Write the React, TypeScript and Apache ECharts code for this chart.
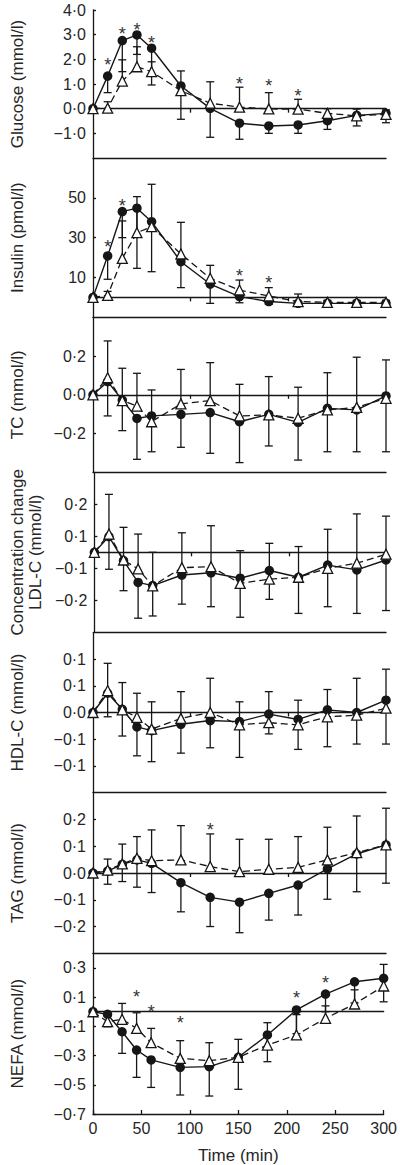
import React, { useEffect, useRef } from 'react';
import * as echarts from 'echarts';

const TIME = [0, 15, 30, 45, 60, 90, 120, 150, 180, 210, 240, 270, 300];

// Glucose (mmol/l)
const GLU_CIRCLE = [0, 1.32, 2.76, 2.99, 2.45, 0.92, 0.01, -0.59, -0.7, -0.66, -0.49, -0.27, -0.19];
const GLU_TRI = [0, 0.02, 1.12, 1.7, 1.5, 0.73, 0.22, 0.06, -0.01, -0.02, -0.19, -0.29, -0.23];
const GLU_CIRCLE_LOW = [0, 0.65, 1.5, 2.2, 0.96, -0.43, -1.16, -1.24, -1.0, -1.0, -0.84, -0.7, -0.57];
const GLU_TRI_HIGH = [0, 0.28, 1.98, 2.51, 1.9, 1.53, 1.09, 0.87, 0.65, 0.38, 0.0, -0.02, -0.05];
const GLU_STAR_T = [15, 30, 45, 60, 150, 180, 210];
const GLU_STAR_Y = [1.97, 3.22, 3.39, 2.85, 1.2, 1.12, 0.72];
const GLU_TICKS = [4, 3, 2, 1, 0, -1];
const GLU_TICK_LABELS = ['4·0', '3·0', '2·0', '1·0', '0·0', '−1·0'];

// Insulin (pmol/l)
const INS_CIRCLE = [0, 20.8, 43.1, 44.8, 38.0, 17.9, 6.7, 0.4, -2.1, -3.0, -3.0, -3.0, -3.0];
const INS_TRI = [0, 1.0, 19.6, 32.5, 35.5, 21.8, 9.6, 3.7, 0.7, -2.1, -2.5, -2.5, -2.5];
const INS_CIRCLE_LOW = [0, 9.1, 30, 14.6, 12.9, 4.9, -3.0, -2.7, -3.5, -4.0, -4.0, -4.0, -4.0];
const INS_TRI_HIGH = [0, 3.0, 38.4, 50.6, 56.8, 37.7, 16.1, 8.7, 4.9, 1.7, -1.5, -1.5, -1.5];
const INS_STAR_T = [15, 30, 150, 180];
const INS_STAR_Y = [28, 48.6, 13.3, 9.6];
const INS_TICKS = [50, 30, 10];
const INS_TICK_LABELS = ['50', '30', '10'];

// TC (mmol/l)
const TC_CIRCLE = [0, 0.068, -0.027, -0.122, -0.109, -0.101, -0.092, -0.139, -0.101, -0.142, -0.07, -0.078, -0.006];
const TC_TRI = [0, 0.088, -0.03, -0.058, -0.139, -0.047, -0.03, -0.109, -0.104, -0.121, -0.078, -0.065, -0.018];
const TC_CIRCLE_LOW = [0, -0.109, -0.185, -0.333, -0.294, -0.271, -0.302, -0.35, -0.264, -0.337, -0.294, -0.294, -0.294];
const TC_TRI_HIGH = [0, 0.278, 0.137, 0.111, 0.025, 0.131, 0.166, 0.054, 0.094, 0.039, 0.114, 0.194, 0.18];
const TC_TICKS = [0.2, 0, -0.2];
const TC_TICK_LABELS = ['0·2', '0·0', '−0·2'];

// LDL-C (mmol/l)
const LDL_CIRCLE = [0, 0.049, -0.026, -0.094, -0.104, -0.071, -0.064, -0.081, -0.057, -0.078, -0.04, -0.055, -0.024];
const LDL_TRI = [0, 0.057, -0.024, -0.052, -0.105, -0.048, -0.045, -0.097, -0.084, -0.078, -0.05, -0.034, -0.006];
const LDL_CIRCLE_LOW = [0, -0.053, -0.12, -0.206, -0.199, -0.162, -0.17, -0.203, -0.147, -0.191, -0.17, -0.191, -0.182];
const LDL_TRI_HIGH = [0, 0.181, 0.078, 0.057, 0.0, 0.061, 0.083, 0.005, 0.028, 0.018, 0.072, 0.12, 0.113];
const LDL_TICKS = [0.15, 0.05, -0.05, -0.15];
const LDL_TICK_LABELS = ['0·2', '0·1', '−0·1', '−0·2'];

// HDL-C (mmol/l)
const HDL_CIRCLE = [0, 0.036, 0.006, -0.027, -0.034, -0.022, -0.015, -0.017, -0.003, -0.013, 0.005, 0.0, 0.023];
const HDL_TRI = [0, 0.041, 0.005, -0.009, -0.031, -0.011, 0.0, -0.023, -0.019, -0.023, -0.008, -0.005, 0.008];
const HDL_CIRCLE_LOW = [0, -0.008, -0.044, -0.081, -0.092, -0.076, -0.066, -0.084, -0.04, -0.069, -0.064, -0.059, -0.059];
const HDL_TRI_HIGH = [0, 0.092, 0.056, 0.036, 0.02, 0.039, 0.064, 0.02, 0.039, 0.023, 0.043, 0.064, 0.081];
const HDL_TICKS = [0.1, 0.05, 0, -0.05, -0.1];
const HDL_TICK_LABELS = ['0·1', '0·1', '0·0', '−0·1', '−0·1'];

// TAG (mmol/l)
const TAG_CIRCLE = [0, 0.007, 0.032, 0.049, 0.036, -0.036, -0.091, -0.109, -0.076, -0.045, 0.015, 0.071, 0.105];
const TAG_TRI = [0, 0.011, 0.034, 0.055, 0.046, 0.049, 0.024, 0.005, 0.014, 0.021, 0.049, 0.076, 0.105];
const TAG_CIRCLE_LOW = [0, -0.042, -0.032, -0.053, -0.073, -0.145, -0.2, -0.223, -0.176, -0.157, -0.098, -0.07, -0.038];
const TAG_TRI_HIGH = [0, 0.052, 0.108, 0.136, 0.161, 0.177, 0.146, 0.126, 0.126, 0.136, 0.171, 0.213, 0.242];
const TAG_STAR_T = [120];
const TAG_STAR_Y = [0.18];
const TAG_TICKS = [0.2, 0.1, 0, -0.1, -0.2];
const TAG_TICK_LABELS = ['0·2', '0·1', '0·0', '−0·1', '−0·2'];

// NEFA (mmol/l)
const NEFA_CIRCLE = [0, -0.018, -0.137, -0.262, -0.33, -0.381, -0.376, -0.312, -0.159, 0.012, 0.121, 0.205, 0.229];
const NEFA_TRI = [0, -0.068, -0.052, -0.114, -0.212, -0.319, -0.335, -0.312, -0.228, -0.159, -0.045, 0.053, 0.176];
const NEFA_CIRCLE_LOW = [0, -0.103, -0.285, -0.449, -0.518, -0.57, -0.577, -0.531, -0.342, -0.15, 0.0, 0.06, 0.068];
const NEFA_TRI_HIGH = [0, -0.03, 0.057, -0.007, -0.114, -0.198, -0.212, -0.189, -0.075, -0.02, 0.04, 0.15, 0.324];
const NEFA_STAR_T = [45, 60, 90, 210, 240];
const NEFA_STAR_Y = [0.137, 0.034, -0.045, 0.126, 0.229];
const NEFA_TICKS = [0.3, 0.1, -0.1, -0.3, -0.5, -0.7];
const NEFA_TICK_LABELS = ['0·3', '0·1', '−0·1', '−0·3', '−0·5', '−0·7'];

const X_TICKS = [0, 50, 100, 150, 200, 250, 300];

const INK = '#161616';
const TEXT = '#262626';
const FONT = '"Liberation Sans", Arial, Helvetica, sans-serif';

const PANELS = [
  { name: 'Glucose (mmol/l)', min: -2, max: 4, ticks: GLU_TICKS, labels: GLU_TICK_LABELS, c: GLU_CIRCLE, t: GLU_TRI, cl: GLU_CIRCLE_LOW, th: GLU_TRI_HIGH, st: GLU_STAR_T, sy: GLU_STAR_Y },
  { name: 'Insulin (pmol/l)', min: -10, max: 70, ticks: INS_TICKS, labels: INS_TICK_LABELS, c: INS_CIRCLE, t: INS_TRI, cl: INS_CIRCLE_LOW, th: INS_TRI_HIGH, st: INS_STAR_T, sy: INS_STAR_Y },
  { name: 'TC (mmol/l)', min: -0.4, max: 0.4, ticks: TC_TICKS, labels: TC_TICK_LABELS, c: TC_CIRCLE, t: TC_TRI, cl: TC_CIRCLE_LOW, th: TC_TRI_HIGH, st: [], sy: [] },
  { name: 'Concentration change\nLDL-C (mmol/l)', min: -0.25, max: 0.25, ticks: LDL_TICKS, labels: LDL_TICK_LABELS, c: LDL_CIRCLE, t: LDL_TRI, cl: LDL_CIRCLE_LOW, th: LDL_TRI_HIGH, st: [], sy: [] },
  { name: 'HDL-C (mmol/l)', min: -0.15, max: 0.15, ticks: HDL_TICKS, labels: HDL_TICK_LABELS, c: HDL_CIRCLE, t: HDL_TRI, cl: HDL_CIRCLE_LOW, th: HDL_TRI_HIGH, st: [], sy: [] },
  { name: 'TAG (mmol/l)', min: -0.3, max: 0.3, ticks: TAG_TICKS, labels: TAG_TICK_LABELS, c: TAG_CIRCLE, t: TAG_TRI, cl: TAG_CIRCLE_LOW, th: TAG_TRI_HIGH, st: TAG_STAR_T, sy: TAG_STAR_Y },
  { name: 'NEFA (mmol/l)', min: -0.7, max: 0.4, ticks: NEFA_TICKS, labels: NEFA_TICK_LABELS, c: NEFA_CIRCLE, t: NEFA_TRI, cl: NEFA_CIRCLE_LOW, th: NEFA_TRI_HIGH, st: NEFA_STAR_T, sy: NEFA_STAR_Y },
];

const TOPS = [10, 158, 317.3, 472.3, 632.3, 792.7, 953.3];
const BOTTOMS = [158, 317.3, 472.3, 632.3, 792.7, 953.3, 1114];

function buildOption() {
  const grid: any[] = [];
  const xAxis: any[] = [];
  const yAxis: any[] = [];
  const series: any[] = [];
  const axisLineStyle = { color: INK, width: 1.3 };

  PANELS.forEach((p, i) => {
    const last = i === PANELS.length - 1;
    grid.push({ left: 88, right: 14, top: TOPS[i], height: BOTTOMS[i] - TOPS[i] });
    xAxis.push({
      gridIndex: i, type: 'value', min: 0, max: 300,
      axisLine: { show: true, onZero: true, lineStyle: axisLineStyle },
      axisTick: { show: !last, customValues: [100, 200], length: 4, inside: false, lineStyle: axisLineStyle },
      axisLabel: { show: false }, splitLine: { show: false },
    });
    xAxis.push({
      gridIndex: i, type: 'value', min: 0, max: 300, interval: 50, position: 'bottom',
      axisLine: { show: true, onZero: false, lineStyle: axisLineStyle },
      axisTick: { show: last, inside: true, length: 4, customValues: X_TICKS, lineStyle: axisLineStyle },
      axisLabel: { show: last, customValues: X_TICKS, fontSize: 16, color: TEXT, fontFamily: FONT, margin: 6 },
      splitLine: { show: false },
      name: last ? 'Time (min)' : '', nameLocation: 'middle', nameGap: 33,
      nameTextStyle: { fontSize: 17, color: TEXT, fontFamily: FONT },
    });
    const ticks = p.ticks;
    const labels = p.labels;
    yAxis.push({
      gridIndex: i, type: 'value', min: p.min, max: p.max,
      axisLine: { show: true, onZero: false, lineStyle: axisLineStyle },
      axisTick: { show: true, inside: true, length: 3, customValues: ticks, lineStyle: axisLineStyle },
      axisLabel: {
        customValues: ticks, fontSize: 16, color: TEXT, fontFamily: FONT, margin: 7,
        formatter: (v: number) => {
          const k = ticks.findIndex((t) => Math.abs(t - v) < 1e-9);
          return k >= 0 ? labels[k] : '';
        },
      },
      splitLine: { show: false },
      name: p.name, nameLocation: 'middle', nameGap: p.name.includes('\n') ? 49 : 67,
      nameTextStyle: { fontSize: 17, color: TEXT, fontFamily: FONT, lineHeight: 18 },
    });

    const xi = 2 * i + 1;
    const errSeries = (means: number[], ends: number[]) => ({
      type: 'custom', xAxisIndex: xi, yAxisIndex: i, z: 2, silent: true,
      encode: { x: 0, y: [1, 2] },
      data: TIME.map((t, k) => [t, means[k], ends[k]]),
      renderItem: (_params: any, api: any) => {
        const x = api.value(0);
        const a = api.coord([x, api.value(1)]);
        const b = api.coord([x, api.value(2)]);
        if (Math.abs(a[1] - b[1]) < 1) return null;
        return {
          type: 'group',
          children: [
            { type: 'line', shape: { x1: a[0], y1: a[1], x2: b[0], y2: b[1] }, style: { stroke: INK, lineWidth: 1.3 } },
            { type: 'line', shape: { x1: b[0] - 4, y1: b[1], x2: b[0] + 4, y2: b[1] }, style: { stroke: INK, lineWidth: 1.3 } },
          ],
        };
      },
    });
    series.push(errSeries(p.c, p.cl));
    series.push(errSeries(p.t, p.th));
    series.push({
      type: 'line', xAxisIndex: xi, yAxisIndex: i, z: 3,
      data: TIME.map((t, k) => [t, p.c[k]]),
      symbol: 'circle', symbolSize: 9.5, showAllSymbol: true,
      lineStyle: { color: INK, width: 1.4, type: 'solid' },
      itemStyle: { color: INK, borderColor: INK, borderWidth: 0 },
    });
    series.push({
      type: 'line', xAxisIndex: xi, yAxisIndex: i, z: 4,
      data: TIME.map((t, k) => [t, p.t[k]]),
      symbol: 'triangle', symbolSize: 10, showAllSymbol: true,
      lineStyle: { color: INK, width: 1.3, type: [7, 4] },
      itemStyle: { color: '#ffffff', borderColor: INK, borderWidth: 1.3 },
    });
    if (p.st.length) {
      series.push({
        type: 'custom', xAxisIndex: xi, yAxisIndex: i, z: 5, silent: true,
        encode: { x: 0, y: 1 },
        data: p.st.map((t, k) => [t, p.sy[k]]),
        renderItem: (_params: any, api: any) => {
          const c = api.coord([api.value(0), api.value(1)]);
          return {
            type: 'text', x: c[0], y: c[1] + 5,
            style: { text: '*', fontSize: 18, fontFamily: FONT, fill: '#333', align: 'center', verticalAlign: 'middle' },
          };
        },
      });
    }
  });

  return { animation: false, backgroundColor: '#ffffff', grid, xAxis, yAxis, series };
}

export default function App() {
  const ref = useRef<HTMLDivElement>(null);
  useEffect(() => {
    if (!ref.current) return;
    const chart = echarts.init(ref.current, undefined, { renderer: 'svg' });
    chart.setOption(buildOption() as any);
    return () => chart.dispose();
  }, []);
  return (
    <div
      ref={ref}
      style={{ position: 'absolute', left: 0, top: 0, width: 400, height: 1165, background: '#fff' }}
    />
  );
}
